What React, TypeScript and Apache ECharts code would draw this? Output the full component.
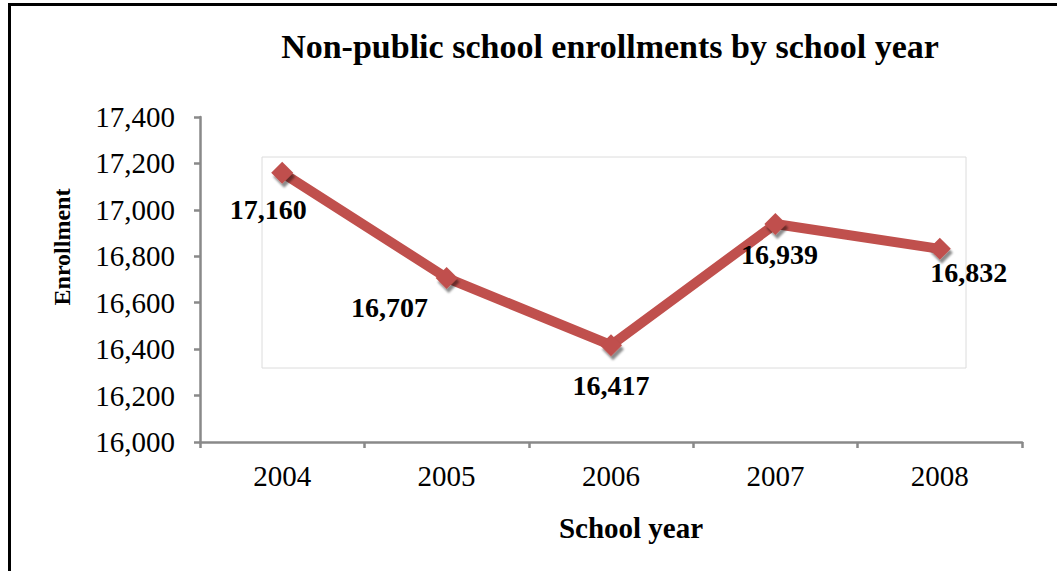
import React, { useEffect, useRef } from "react";
import * as echarts from "echarts";

const categories = ["2004", "2005", "2006", "2007", "2008"];
const enrollment = [17160, 16707, 16417, 16939, 16832];
const labelOffsets = [
  [-14, 37],
  [-57, 30],
  [0, 40],
  [4, 30],
  [29, 24],
];

const fmt = (v: number) => v.toLocaleString("en-US");

export default function App() {
  const ref = useRef<HTMLDivElement>(null);
  useEffect(() => {
    const chart = echarts.init(ref.current!, null, { renderer: "svg" });
    const serif = "'Liberation Serif', 'Times New Roman', serif";
    chart.setOption({
      animation: false,
      backgroundColor: "#fff",
      title: {
        text: "Non-public school enrollments by school year",
        left: 605,
        textAlign: "center",
        top: 24,
        textStyle: { fontFamily: serif, fontWeight: "bold", fontSize: 34, color: "#000" },
      },
      grid: { left: 200, right: 35, top: 117, bottom: 129 },
      xAxis: {
        type: "category",
        data: categories,
        boundaryGap: true,
        axisLine: { lineStyle: { color: "#898989", width: 2.5 } },
        axisTick: { show: true, length: 6, lineStyle: { color: "#898989", width: 2.5 } },
        axisLabel: { fontFamily: serif, fontSize: 29, color: "#000", margin: 19 },
      },
      yAxis: {
        type: "value",
        min: 16000,
        max: 17400,
        interval: 200,
        axisLine: { show: true, lineStyle: { color: "#898989", width: 2.5 } },
        axisTick: { show: true, length: 6, lineStyle: { color: "#898989", width: 2.5 } },
        splitLine: { show: false },
        axisLabel: { fontFamily: serif, fontSize: 29, color: "#000", margin: 25, formatter: (v: number) => fmt(v) },
      },
      graphic: [
        { type: "line", shape: { x1: 9.5, y1: 4, x2: 9.5, y2: 571 }, style: { stroke: "#000", lineWidth: 3 } },
        { type: "line", shape: { x1: 8, y1: 4.5, x2: 1057, y2: 4.5 }, style: { stroke: "#000", lineWidth: 3 } },
        { type: "rect", shape: { x: 262, y: 157, width: 704, height: 211 }, style: { fill: "none", stroke: "#dcdcdc", lineWidth: 1 }, z: -1 },
        {
          type: "text",
          x: 62,
          y: 247,
          rotation: Math.PI / 2,
          style: { text: "Enrollment", fontFamily: serif, fontWeight: "bold", fontSize: 24, fill: "#000", align: "center", verticalAlign: "middle" },
        },
        {
          type: "text",
          x: 631,
          y: 528,
          style: { text: "School year", fontFamily: serif, fontWeight: "bold", fontSize: 29, fill: "#000", align: "center", verticalAlign: "middle" },
        },
      ],
      series: [
        {
          type: "line",
          data: enrollment.map((v, i) => ({
            value: v,
            label: { offset: labelOffsets[i] },
          })),
          lineStyle: { color: "#C0504D", width: 10 },
          itemStyle: { color: "#C0504D", shadowColor: "rgba(0,0,0,0.45)", shadowBlur: 2, shadowOffsetX: 2, shadowOffsetY: 4 },
          symbol: "diamond",
          symbolSize: 22,
          label: {
            show: true,
            position: "inside",
            formatter: (p: any) => fmt(p.value),
            fontFamily: serif,
            fontWeight: "bold",
            fontSize: 28,
            color: "#000",
          },
        },
      ],
    });
    return () => chart.dispose();
  }, []);
  return <div ref={ref} style={{ position: "fixed", left: 0, top: 0, width: 1057, height: 571 }} />;
}
